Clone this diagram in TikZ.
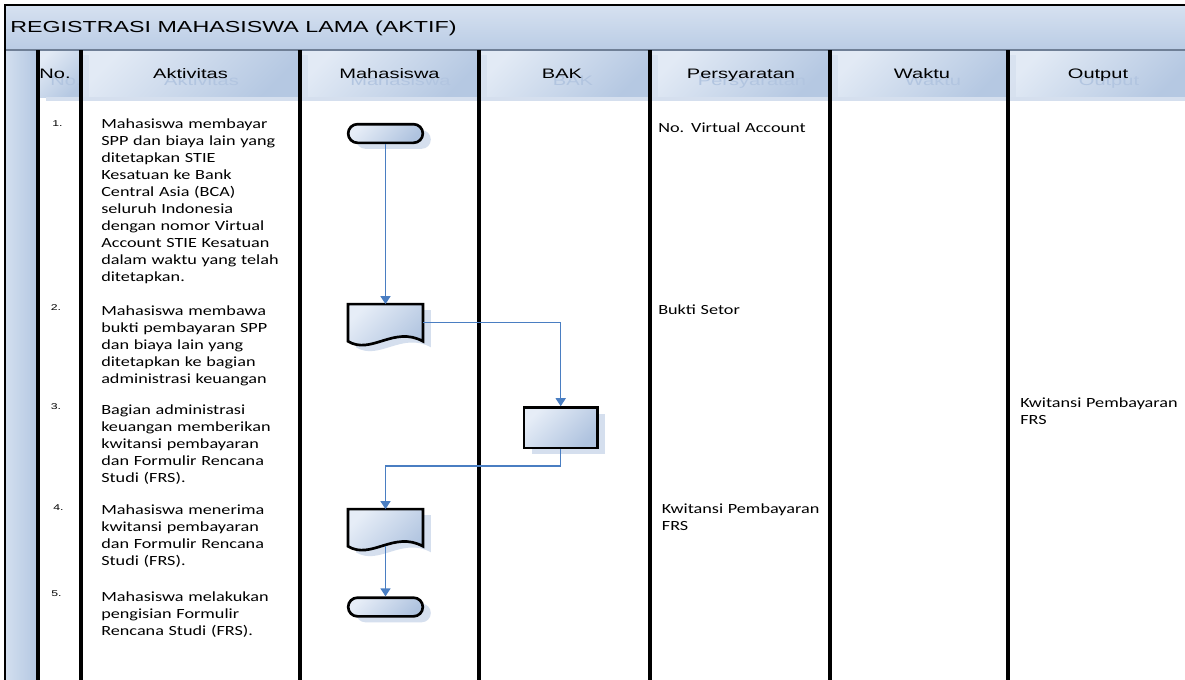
\documentclass[tikz,border=0pt]{standalone}
\usepackage{fontspec}
\setmainfont{Carlito}[FakeStretch=1.3]
\newfontfamily\hfont{Liberation Sans}[FakeStretch=1.46]
\usetikzlibrary{arrows.meta,calc,shadows}

\definecolor{bandtop}{HTML}{D6E1F0}
\definecolor{bandbot}{HTML}{BACCE5}
\definecolor{celltl}{HTML}{E2EAF5}
\definecolor{cellbr}{HTML}{B5C8E2}
\definecolor{laneL}{HTML}{D3DFEF}
\definecolor{laneR}{HTML}{B3C7E2}
\definecolor{shapetl}{HTML}{E6EDF7}
\definecolor{shapebr}{HTML}{AFC3DF}
\definecolor{shadowc}{HTML}{D5DFEE}
\definecolor{ghostc}{HTML}{B2C5E0}
\definecolor{flow}{HTML}{4A7EC2}
\definecolor{rulegray}{HTML}{6F7F96}

\tikzset{
  colline/.style={line width=2.4pt, black},
  frameline/.style={line width=1.8pt, black},
  titletext/.style={font=\hfont\fontsize{11.95}{14}\selectfont, inner sep=0pt, anchor=base west},
  hdrtext/.style={font=\hfont\fontsize{10.3}{12}\selectfont, inner sep=0pt, anchor=base},
  ghosttext/.style={hdrtext, text=ghostc},
  numtext/.style={font=\hfont\fontsize{6.3}{7}\selectfont, inner sep=0pt, anchor=base west},
  bodytext/.style={font=\fontsize{10.5}{12.75}\selectfont, inner sep=0pt, anchor=base west, text width=180pt, align=left},
  gradfill/.style={top color=shapetl, bottom color=shapebr, shading angle=45},
  boxshadow/.style={general shadow={fill=shadowc, shadow xshift=6pt, shadow yshift=-4.5pt}},
  termbox/.style={boxshadow, gradfill, draw=black, line width=2pt, rounded corners=7pt,
    minimum width=56pt, minimum height=14pt, inner sep=0pt},
  procbox/.style={boxshadow, gradfill, draw=black, line width=2pt,
    minimum width=55pt, minimum height=30.2pt, inner sep=0pt},
  docbox/.style={minimum width=55.8pt, minimum height=27.5pt, inner sep=0pt},
  flowline/.style={draw=flow, line width=1.1pt, -{Triangle[length=6pt,width=7.5pt]}},
}

% document symbol: flat top, wavy bottom, with its drop shadow
\newcommand\docshape[1]{%
  \fill[shadowc] ($(#1.north west)+(8,6)$) -- ($(#1.north east)+(8,6)$) -- ($(#1.south east)+(8,6)$)
    .. controls ($(#1.south east)+(-21,-10)$) and ($(#1.south west)+(31,20)$) .. ($(#1.south west)+(8,6)$) -- cycle;
  \path[gradfill, draw=black, line width=2pt] (#1.north west) -- (#1.north east) -- (#1.south east)
    .. controls ($(#1.south east)+(-29,-16)$) and ($(#1.south west)+(23,14)$) .. (#1.south west) -- cycle;}

\begin{document}
\begin{tikzpicture}[x=0.75pt,y=-0.75pt]
\useasboundingbox (0,0) rectangle (1185,679);
\clip (0,0) rectangle (1185,679);
\fill[white] (0,0) rectangle (1185,679);

% title band
\shade[top color=bandtop,bottom color=bandbot] (5,5) rectangle (1190,50);
\node[titletext] (title) at (10,32.3) {REGISTRASI MAHASISWA LAMA (AKTIF)};

% lane strip on the left
\shade[left color=laneL,right color=laneR] (5,50) rectangle (38,690);

% column header cells
\foreach \xa/\xb in {38/81,81/300,300/479,479/650,650/830,830/1008,1008/1190}
  \shade[top color=celltl,bottom color=cellbr,shading angle=45] (\xa,50) rectangle (\xb,97);
\fill[shadowc] (46,97) rectangle (1190,101);
\foreach \x in {81,300,479,650,830,1008}
  \fill[shadowc, opacity=0.7] (\x,55) rectangle (\x+8,97);

\foreach \lab/\cx [count=\i] in {No./55, Aktivitas/190.5, Mahasiswa/389.5, BAK/562, Persyaratan/741, Waktu/922, Output/1098} {
  \node[ghosttext] (hg\i) at (\cx+11,85.3) {\lab};
  \node[hdrtext] (hd\i) at (\cx,78.3) {\lab};
}

% frame and column rules
\draw[rulegray, line width=0.8pt] (5,50) -- (1190,50);
\foreach \x in {38,81,300,479,650,830,1008} \draw[colline] (\x,50) -- (\x,690);
\draw[frameline] (5,690) -- (5,5) -- (1190,5);

% step numbers
\node[numtext] (n1) at (52,126.7) {1.};
\node[numtext] (n2) at (50.5,310.7) {2.};
\node[numtext] (n3) at (50.5,409) {3.};
\node[numtext] (n4) at (53,510) {4.};
\node[numtext] (n5) at (51,596.7) {5.};

% activities
\node[bodytext] (a1) at (101,128.5) {Mahasiswa membayar\\SPP dan biaya lain yang\\ditetapkan STIE\\Kesatuan ke Bank\\Central Asia (BCA)\\seluruh Indonesia\\dengan nomor Virtual\\Account STIE Kesatuan\\dalam waktu yang telah\\ditetapkan.};
\node[bodytext] (a2) at (101,315) {Mahasiswa membawa\\bukti pembayaran SPP\\dan biaya lain yang\\ditetapkan ke bagian\\administrasi keuangan};
\node[bodytext] (a3) at (101,414.5) {Bagian administrasi\\keuangan memberikan\\kwitansi pembayaran\\dan Formulir Rencana\\Studi (FRS).};
\node[bodytext] (a4) at (101,514.5) {Mahasiswa menerima\\kwitansi pembayaran\\dan Formulir Rencana\\Studi (FRS).};
\node[bodytext] (a5) at (101,601.5) {Mahasiswa melakukan\\pengisian Formulir\\Rencana Studi (FRS).};

% requirements and output
\node[bodytext] (r1) at (658,132.3) {No. Virtual Account};
\node[bodytext] (r2) at (658,314) {Bukti Setor};
\node[bodytext] (r3) at (661.7,513.3) {Kwitansi Pembayaran\\FRS};
\node[bodytext, text width=130pt] (o1) at (1020,407.7) {Kwitansi Pembayaran\\FRS};

% flow symbols
\node[termbox] (t1) at (385.5,133.5) {};
\node[docbox] (d2) at (385.5,322.7) {};
\node[procbox] (p3) at (560.7,427.7) {};
\node[docbox] (d4) at (385.5,527.7) {};
\node[termbox] (t5) at (385.5,607) {};
\docshape{d2}
\docshape{d4}

% flow connectors
\coordinate (j34) at (560.7,466);
\draw[flowline] (t1.south) -- (d2.north);
\draw[flowline] (d2.east) -| (p3.north);
\draw[flowline] (p3.south) -- (j34) -| (d4.north);
\draw[flowline] (d4.south) -- (t5.north);
\end{tikzpicture}
\end{document}
